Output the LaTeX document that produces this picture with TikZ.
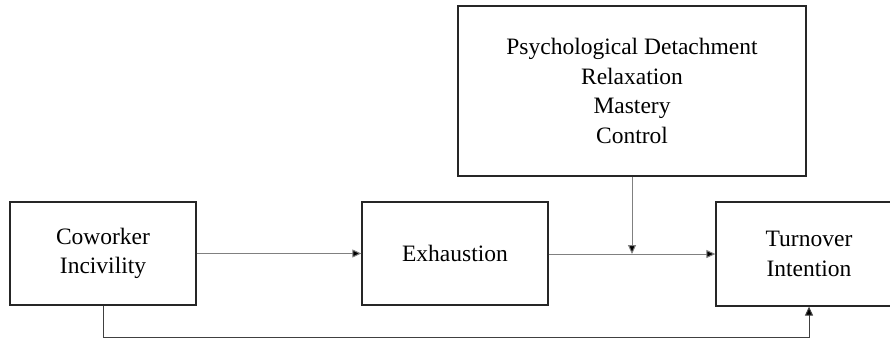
\documentclass[tikz,border=0pt]{standalone}
\usepackage{fontspec}
\setmainfont{Liberation Serif}
\usetikzlibrary{arrows.meta}
\tikzset{
  box/.style={draw=black!85, line width=1.3pt, fill=white, align=center, inner sep=0pt,
    font=\fontsize{23.5}{29.5}\selectfont, text=black},
  tip/.style={-{Triangle[length=9pt,width=8pt,fill=black]}},
  conn/.style={draw=black!50, line width=1pt, tip},
  conndark/.style={draw=black!75, line width=1pt, tip}
}
\begin{document}
\begin{tikzpicture}[x=1pt,y=-1pt]
\clip (0,0) rectangle (890,340);
\fill[white] (0,0) rectangle (890,340);
\node[box, minimum width=186pt, minimum height=103pt] (cw) at (103,253.5) {Coworker\\Incivility};
\node[box, minimum width=186pt, minimum height=103pt] (ex) at (455,253.5) {Exhaustion};
\node[box, minimum width=186pt, minimum height=104pt] (ti) at (809,254) {Turnover\\Intention};
\node[box, minimum width=348pt, minimum height=170pt] (rc) at (632,91) {Psychological Detachment\\Relaxation\\Mastery\\Control};
\coordinate (m) at (632,254);
\coordinate (b) at (103,337);
\draw[conn] (cw.east |- 0,253.5) -- (ex.west |- 0,253.5);
\draw[conn] (ex.east |- 0,254) -- (ti.west |- 0,254);
\draw[conn] (rc.south) -- (m);
\draw[conndark] (cw.south) -- (b) -| (ti.south);
\end{tikzpicture}
\end{document}
